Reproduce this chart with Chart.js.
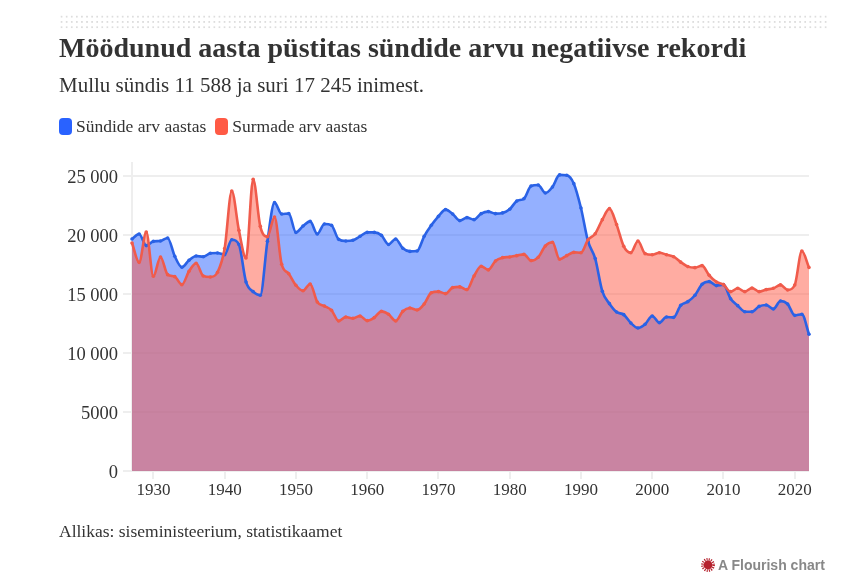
<!DOCTYPE html>
<html lang="et">
<head>
<meta charset="utf-8">
<title>Sünnid ja surmad</title>
<script src="https://cdn.jsdelivr.net/npm/chart.js@4"></script>
<style>
  html, body { margin: 0; padding: 0; background: #fff; }
  body { width: 862px; height: 576px; position: relative; overflow: hidden; font-family: "Liberation Serif", serif; color: #333; }
  #chart { position: absolute; left: 0; top: 0; }
  .abs { position: absolute; white-space: nowrap; }
  #dots { left: 59px; top: 14px; width: 768px; height: 16px; background-image: radial-gradient(circle, #dddddd 1.1px, transparent 1.3px); background-size: 5.1px 5.3px; }
  #title { left: 59px; top: 31px; font-size: 28px; line-height: 34px; font-weight: bold; }
  #subtitle { left: 59px; top: 72px; font-size: 21px; line-height: 26px; }
  #legend { left: 59px; top: 116px; font-size: 17.5px; line-height: 21px; display: flex; }
  .item { display: flex; align-items: center; margin-right: 9px; }
  .swatch { width: 13px; height: 17px; border-radius: 4px; margin-right: 4px; }
  #source { left: 59px; top: 521px; font-size: 17.5px; line-height: 21px; }
  #credit { left: 701px; top: 557px; font: bold 14px "Liberation Sans", sans-serif; line-height: 16px; color: #888; display: flex; align-items: center; }
  #credit svg { margin-right: 3px; }
</style>
</head>
<body>
<canvas id="chart" width="862" height="576"></canvas>
<div class="abs" id="dots"></div>
<div class="abs" id="title">Möödunud aasta püstitas sündide arvu negatiivse rekordi</div>
<div class="abs" id="subtitle">Mullu sündis 11 588 ja suri 17 245 inimest.</div>
<div class="abs" id="legend"></div>
<div class="abs" id="source">Allikas: siseministeerium, statistikaamet</div>
<div class="abs" id="credit">
  <svg width="14" height="14" viewBox="0 0 14 14">
    <circle cx="7" cy="7" r="4.4" fill="#b5202c"></circle>
    <circle cx="7" cy="7" r="5.6" fill="none" stroke="#b5202c" stroke-width="2.6" stroke-dasharray="1.1 1.1"></circle>
  </svg>A Flourish chart
</div>
<script>
const years = [
  1927, 1928, 1929, 1930, 1931, 1932, 1933, 1934, 1935, 1936, 1937, 1938,
  1939, 1940, 1941, 1942, 1943, 1944, 1945, 1946, 1947, 1948, 1949, 1950,
  1951, 1952, 1953, 1954, 1955, 1956, 1957, 1958, 1959, 1960, 1961, 1962,
  1963, 1964, 1965, 1966, 1967, 1968, 1969, 1970, 1971, 1972, 1973, 1974,
  1975, 1976, 1977, 1978, 1979, 1980, 1981, 1982, 1983, 1984, 1985, 1986,
  1987, 1988, 1989, 1990, 1991, 1992, 1993, 1994, 1995, 1996, 1997, 1998,
  1999, 2000, 2001, 2002, 2003, 2004, 2005, 2006, 2007, 2008, 2009, 2010,
  2011, 2012, 2013, 2014, 2015, 2016, 2017, 2018, 2019, 2020, 2021, 2022
];
const births = [
  19660, 20085, 19100, 19460, 19490, 19750, 18200, 17270, 17860, 18220, 18160, 18450,
  18475, 18330, 19600, 19200, 16020, 15200, 14890, 19460, 22740, 21780, 21810, 20220,
  20760, 21150, 20080, 20930, 20820, 19630, 19490, 19550, 19890, 20220, 20220, 19970,
  19200, 19660, 18870, 18610, 18640, 19890, 20820, 21580, 22150, 21780, 21220, 21470,
  21300, 21810, 21980, 21810, 21870, 22180, 22880, 23080, 24150, 24240, 23560, 24070,
  25090, 25060, 24350, 22290, 19450, 18000, 15230, 14180, 13470, 13250, 12540, 12120,
  12430, 13140, 12570, 13050, 13020, 14040, 14350, 14890, 15820, 16050, 15710, 15790,
  14600, 14010, 13500, 13500, 13950, 14070, 13730, 14410, 14150, 13190, 13280, 11588
];
const deaths = [
  19320, 17680, 20250, 16500, 18140, 16640, 16470, 15790, 16920, 17600, 16530, 16440,
  16840, 18850, 23730, 20400, 18050, 24720, 20730, 19860, 21530, 17520, 16720, 15740,
  15280, 15850, 14320, 13980, 13620, 12710, 13050, 12940, 13140, 12740, 13000, 13530,
  13280, 12710, 13530, 13810, 13640, 14150, 15110, 15200, 15030, 15540, 15600, 15370,
  16530, 17350, 17040, 17800, 18080, 18140, 18250, 18360, 17830, 18110, 19070, 19380,
  17940, 18250, 18530, 18500, 19600, 20110, 21300, 22230, 20880, 19040, 18500, 19490,
  18420, 18330, 18500, 18330, 18160, 17700, 17320, 17230, 17400, 16580, 16020, 15790,
  15200, 15480, 15200, 15510, 15200, 15370, 15480, 15770, 15340, 15760, 18640, 17245
];
const xTicks = [1930, 1940, 1950, 1960, 1970, 1980, 1990, 2000, 2010, 2020];
const yTicks = [0, 5000, 10000, 15000, 20000, 25000];
const yTickLabels = ['0', '5000', '10 000', '15 000', '20 000', '25 000'];
const seriesNames = ['Sündide arv aastas', 'Surmade arv aastas'];
const seriesColors = ['#2962ff', '#ff5a45'];
const lineColors = ['#2a62e6', '#f05b4b'];
const fillColors = ['rgba(41,98,255,0.5)', 'rgba(255,90,69,0.5)'];

// Legend
const legend = document.getElementById('legend');
seriesNames.forEach((name, i) => {
  const item = document.createElement('div');
  item.className = 'item';
  const swatch = document.createElement('span');
  swatch.className = 'swatch';
  swatch.style.background = seriesColors[i];
  item.appendChild(swatch);
  item.appendChild(document.createTextNode(name));
  legend.appendChild(item);
});

function toPoints(values) {
  return years.map((y, k) => ({ x: y, y: values[k] }));
}

// Fills go in their own datasets so both lines stay on top of both areas
function makeFill(i, values) {
  return {
    label: seriesNames[i] + ' (ala)',
    data: toPoints(values),
    borderWidth: 0,
    borderColor: 'transparent',
    backgroundColor: fillColors[i],
    pointRadius: 0,
    fill: 'origin',
    cubicInterpolationMode: 'monotone',
    order: 4 - i
  };
}

function makeLine(i, values) {
  return {
    label: seriesNames[i],
    data: toPoints(values),
    borderColor: lineColors[i],
    backgroundColor: lineColors[i],
    pointBorderWidth: 0,
    pointRadius: 1.8,
    borderWidth: 2.6,
    fill: false,
    cubicInterpolationMode: 'monotone',
    clip: false,
    order: 2 - i
  };
}

new Chart(document.getElementById('chart'), {
  type: 'line',
  data: {
    datasets: [
      makeFill(0, births),
      makeFill(1, deaths),
      makeLine(0, births),
      makeLine(1, deaths)
    ]
  },
  options: {
    responsive: false,
    animation: false,
    layout: { padding: { left: 0, top: 163, right: 53, bottom: 0 } },
    plugins: { legend: { display: false }, tooltip: { enabled: false } },
    scales: {
      x: {
        type: 'linear',
        min: 1927,
        max: 2022,
        afterBuildTicks: axis => { axis.ticks = xTicks.map(v => ({ value: v })); },
        afterFit: axis => { axis.height = 105; },
        grid: { drawOnChartArea: false, color: '#eeeeee', lineWidth: 2, tickLength: 8 },
        border: { display: false },
        ticks: {
          autoSkip: false,
          maxRotation: 0,
          padding: 1,
          color: '#333',
          font: { family: '"Liberation Serif", serif', size: 17 },
          callback: v => String(v)
        }
      },
      y: {
        min: 0,
        max: 26100,
        afterBuildTicks: axis => { axis.ticks = yTicks.map(v => ({ value: v })); },
        afterFit: axis => { axis.width = 132; },
        grid: { color: '#eeeeee', lineWidth: 2, tickLength: 9 },
        border: { color: '#eeeeee', width: 2 },
        ticks: {
          padding: 5,
          color: '#333',
          // empty first line nudges the label down a little, like the reference
          font: { family: '"Liberation Serif", serif', size: 18.5, lineHeight: 0.2 },
          callback: v => ['', yTickLabels[yTicks.indexOf(v)]]
        }
      }
    }
  }
});
</script>
</body>
</html>
